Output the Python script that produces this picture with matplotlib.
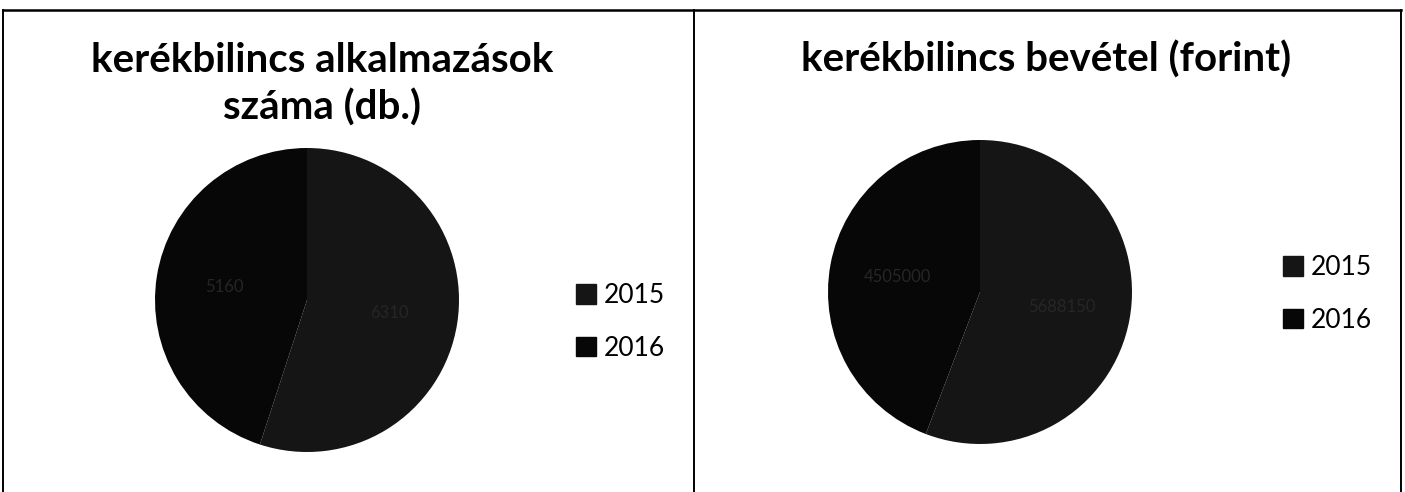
import matplotlib
matplotlib.use("Agg")
import matplotlib.pyplot as plt
from matplotlib.lines import Line2D
from matplotlib.patches import Patch

# ---- data ----
years = ["2015", "2016"]
count_values = [6310, 5160]          # kerékbilincs alkalmazások száma (db.)
revenue_values = [5688150, 4505000]  # kerékbilincs bevétel (forint)
titles = ["kerékbilincs alkalmazások\nszáma (db.)", "kerékbilincs bevétel (forint)"]
slice_colors = ["#151515", "#070707"]

plt.rcParams['font.family'] = ['Lato', 'DejaVu Sans']

W, H = 1405, 492
fig = plt.figure(figsize=(W / 100, H / 100), dpi=100)
fig.patch.set_facecolor("white")

def fx(px):
    return px / W

def fy(py):
    return 1 - py / H

# frame lines (scanned table borders)
for x in (3, 694, 1401):
    fig.add_artist(Line2D([fx(x), fx(x)], [fy(10), fy(H)], color="black", lw=1.4))
fig.add_artist(Line2D([fx(3), fx(1401)], [fy(10), fy(10)], color="black", lw=1.8))

def draw_pie(cx, cy, r, values, title, title_xy, legend_xy, label_fmt):
    ax = fig.add_axes([fx(cx - r), fy(cy + r), 2 * r / W, 2 * r / H])
    wedges, texts = ax.pie(values, colors=slice_colors, startangle=90,
                           counterclock=False, labels=[label_fmt(v) for v in values],
                           labeldistance=0.55,
                           textprops=dict(color="#262626", fontsize=12, ha="center", va="center"))
    ax.set_aspect("equal")
    ax.set_xlim(-1, 1)
    ax.set_ylim(-1, 1)
    fig.text(fx(title_xy[0]), fy(title_xy[1]), title, ha="center", va="center",
             fontsize=29, fontweight="bold", linespacing=1.3)
    handles = [Patch(facecolor=c, edgecolor=c) for c in slice_colors]
    fig.legend(handles, years, loc="center left",
               bbox_to_anchor=(fx(legend_xy[0]), fy(legend_xy[1])),
               frameon=False, fontsize=19, handlelength=0.75, handleheight=0.75,
               handletextpad=0.3, labelspacing=1.05, borderpad=0)

draw_pie(307, 300, 152, count_values, titles[0], (322, 84), (563, 322),
         lambda v: f"{v}")
draw_pie(980, 292, 152, revenue_values, titles[1], (1046, 60), (1270, 294),
         lambda v: f"{v}")

fig.savefig("out.png", dpi=100, facecolor="white")
